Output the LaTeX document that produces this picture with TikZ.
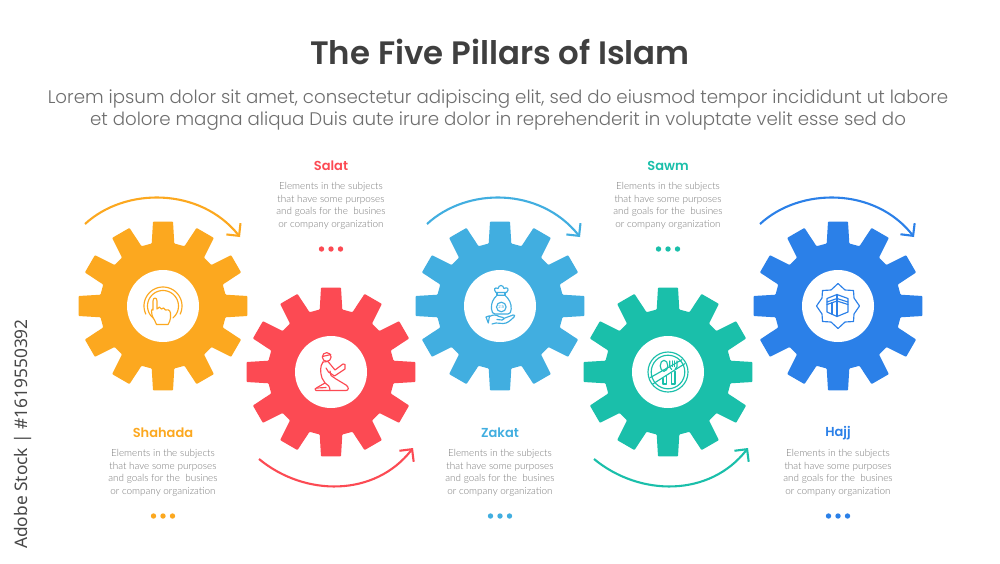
\documentclass[tikz,border=0pt]{standalone}
\usepackage{fontspec}
\usetikzlibrary{arrows.meta}
\setmainfont{Lato Light}
\newfontfamily\popf{Poppins}
\newfontfamily\popsb{Poppins SemiBold}
\newfontfamily\popl{Poppins Light}
\newfontfamily\wmf{Noto Sans}
\definecolor{cOr}{HTML}{FCA81F}
\definecolor{cRe}{HTML}{FC4A53}
\definecolor{cBl}{HTML}{41AEE0}
\definecolor{cTe}{HTML}{1ABFAA}
\definecolor{cDb}{HTML}{2B80E8}
\definecolor{cTi}{HTML}{3F3F3F}
\definecolor{cSu}{HTML}{6E6E6E}
\definecolor{cBo}{HTML}{7A7A7A}
\tikzset{
 x=1pt,y=-1pt,
 titletext/.style={inner sep=0,font=\popsb\fontsize{32.4}{36}\selectfont,text=cTi},
 subtext/.style={inner sep=0,align=center,font=\popl\fontsize{18.22}{22.5}\selectfont,text=cSu},
 headtext/.style={inner sep=0,font=\popsb\fontsize{13}{16}\selectfont},
 bodytext/.style={inner sep=0,align=center,font=\fontsize{9.9}{12.4}\selectfont,text=cBo},
 hole/.style={circle,fill=white,minimum size=72pt,inner sep=0},
 turn/.style={line width=2.1pt,-{Straight Barb[length=9pt,width=18pt,line width=2.1pt]}},
 ico/.style={line width=1.15pt,line join=round,line cap=round},
 dot/.style={circle,inner sep=0,minimum size=5.4pt},
}
\newcommand{\gearshape}[3]{% x,y,colour
 \begin{scope}[shift={(#1,#2)}]
 \fill[#3,rounded corners=0.8pt] (-10.25:63.5)
  \foreach \a in {0,30,...,330}{
   -- (\a-6.76:85) -- (\a+6.76:85) -- (\a+10.25:63.5) -- (\a+19.75:63.5)
  } -- cycle;
 \end{scope}}
\newcommand{\infoblock}[6]{% name,x,ytop,colour,title,dots y
 \node[headtext,text=#4] (#1h) at (#2,#3) {#5};
 \node[bodytext,anchor=north] (#1b) at (#2,#3+16.5) {Elements in the subjects\\that have some purposes\\and goals for the\ \ busines\\or company organization};
 \node[dot,fill=#4] (#1d1) at (#2-9.5,#6) {};
 \node[dot,fill=#4] (#1d2) at (#2,#6) {};
 \node[dot,fill=#4] (#1d3) at (#2+9.5,#6) {};}
\newcommand{\ringarc}[3]{plot[domain=#2:#3,samples=40,smooth] ({#1*cos(\x)},{#1*sin(\x)})}
\begin{document}
\begin{tikzpicture}
\useasboundingbox (0,0) rectangle (1000,563);
\fill[white] (0,0) rectangle (1000,563);

\node[titletext] (title) at (500,52) {The Five Pillars of Islam};
\node[subtext] (sub) at (498,110) {Lorem ipsum dolor sit amet, consectetur adipiscing elit, sed do eiusmod tempor incididunt ut labore\\et dolore magna aliqua Duis aute irure dolor in reprehenderit in voluptate velit esse sed do};

\node[rotate=90,inner sep=0,font=\wmf\fontsize{17.3}{20}\selectfont,text=black!72] (stock) at (23,434) {Adobe Stock | \#1619550392};

\gearshape{163}{306}{cOr}
\gearshape{331}{372}{cRe}
\gearshape{500}{306}{cBl}
\gearshape{668}{372}{cTe}
\gearshape{838}{306}{cDb}

\node[hole] (g1) at (163,306) {};
\node[hole] (g2) at (331,372) {};
\node[hole] (g3) at (500,306) {};
\node[hole] (g4) at (668,372) {};
\node[hole] (g5) at (838,306) {};

\infoblock{a}{163}{433}{cOr}{Shahada}{516}
\infoblock{b}{331}{166}{cRe}{Salat}{249}
\infoblock{c}{500}{433}{cBl}{Zakat}{516}
\infoblock{d}{668}{166}{cTe}{Sawm}{249}
\infoblock{e}{838}{433}{cDb}{Hajj}{516}

% turning arrows
\coordinate (a1) at (85,224);  \coordinate (a2) at (240,237);
\coordinate (b1) at (259,459); \coordinate (b2) at (413,448);
\coordinate (c1) at (427,224); \coordinate (c2) at (580,237);
\coordinate (d1) at (594,459); \coordinate (d2) at (748,448);
\coordinate (e1) at (760,224); \coordinate (e2) at (914,237);
\draw[turn,cOr] (a1) .. controls (125,187) and (200,187) .. (a2);
\draw[turn,cRe] (b1) .. controls (305,497) and (375,497) .. (b2);
\draw[turn,cBl] (c1) .. controls (467,187) and (540,187) .. (c2);
\draw[turn,cTe] (d1) .. controls (640,497) and (710,497) .. (d2);
\draw[turn,cDb] (e1) .. controls (800,187) and (875,187) .. (e2);

% icon 1: pointing hand
\begin{scope}[shift={(g1.center)},cOr,ico]
 \draw \ringarc{19}{-205}{25};
 \draw \ringarc{15.5}{-230}{50};
 \draw[fill=white] (-10,-5) .. controls (-10,-9) and (-6,-9) .. (-6,-5) -- (-6,3)
  .. controls (-5,0.5) and (-2,0.5) .. (-1.5,3) .. controls (-1,1.5) and (2,1.5) .. (2.5,4)
  .. controls (3.5,3) and (7,3.5) .. (7.5,7) -- (7.5,12) .. controls (7.5,15) and (6,16) .. (5,18.5)
  -- (-6.5,18.5) .. controls (-7,15) and (-10,13) .. (-11,9) -- (-11.5,5) .. controls (-11.5,3) and (-10.5,3) .. (-10,4) -- cycle;
\end{scope}

% icon 2: kneeling person in prayer
\begin{scope}[shift={(g2.center)},cRe,ico]
 \draw (-4.3,-15) circle (4.4);
 \draw (-8.5,-15.5) -- (-0.2,-17.5);
 \draw (-8,-10) .. controls (-11,-6) and (-11,0) .. (-9,6) -- (-6,11) -- (-13,15) -- (-16,17) -- (-15,18.5) -- (15,18.5) .. controls (18,18.5) and (18,15) .. (15,13) -- (5,7) -- (0,3.5) -- (-1,-1);
 \draw (-8,-10) -- (-3,-10.5) -- (4,-2) -- (12,-8) -- (14,-7.5) -- (14,-3) -- (3.5,4) -- (-2.5,0) -- (-5,-4);
 \draw (-6,11) .. controls (-3,12) and (-1,15) .. (-1,18.5);
 \draw (-14,16) -- (-5,15.5);
\end{scope}

% icon 3: money bag on a hand
\begin{scope}[shift={(g3.center)},cBl,ico]
 \draw (-3,-10.7) .. controls (-7,-7) and (-9,-3) .. (-8.5,3) .. controls (-8.5,6) and (-7,8) .. (-5,8) -- (8,8) .. controls (10,8) and (11.2,6) .. (11.2,3) .. controls (11.5,-3) and (9,-7) .. (5,-10.7) -- cycle;
 \draw (-3,-10.7) -- (-3,-13.5) (5,-10.7) -- (5,-13.5);
 \draw (-4,-13.5) .. controls (-7,-17) and (-5,-19) .. (-2,-17.5) .. controls (-1,-21.5) and (3,-21.5) .. (4,-17.5) .. controls (7,-19.5) and (10,-17) .. (6.5,-13.5) -- cycle;
 \draw (1.3,1) circle (4.8);
 \node[inner sep=0,font=\popf\fontsize{4.2}{5}\selectfont,text=cBl] (ic3t) at (1.3,1) {2.5};
 \draw[fill=white] (-14,11) -- (-10.5,9.8) -- (-11.7,17) -- (-14,11) -- cycle;
 \draw[fill=white] (-10.5,10.5) .. controls (-7,8.5) and (-4,8.5) .. (-1,10.5) -- (3,11.5) .. controls (5,12) and (4,14) .. (2,14) -- (-3,13.5) (3.5,12.5) -- (13,9) .. controls (15,8.5) and (15,10) .. (14,11) .. controls (10,15) and (7,17.5) .. (3,17.5) -- (-4,17) -- (-8,18);
\end{scope}

% icon 4: forbidden food
\begin{scope}[shift={(g4.center)},cTe,ico]
 \draw (0,0) circle (20) (0,0) circle (16.8);
 \draw (-15.7,12.3) -- (16.7,-8.3);
 \draw (-18,5.7) -- (14,-12.3);
 \draw (-4,-6.2) ellipse (3.8 and 5.5);
 \draw (-5,6.5) -- (-5,12) -- (-1.8,12) -- (-1.8,4.5);
 \draw (1.7,-11) -- (1.7,-5) -- (3.7,-2.5) (9,-11) -- (9,-5) -- (7.3,-3.5);
 \draw (4.2,-11) -- (4.2,-5.5) (6.5,-11) -- (6.5,-5.5);
 \draw (3.7,1.5) -- (3.7,12) -- (7,12) -- (7,-0.5);
\end{scope}

% icon 5: Kaaba in a star
\begin{scope}[shift={(g5.center)},cDb,ico]
 \draw (0,-22.5) -- (7,-16) -- (15.5,-15.5) -- (16,-8) -- (21.5,0) -- (16,8) -- (15.5,15.5) -- (7,16) -- (0,22.5) -- (-7,16) -- (-15.5,15.5) -- (-16,8) -- (-21.5,0) -- (-16,-8) -- (-15.5,-15.5) -- (-7,-16) -- cycle;
 \draw (-11,-7.5) -- (-1,-11.5) -- (10,-7.5) -- (10,6) -- (-1,10.5) -- (-11,6) -- cycle;
 \draw (-1,-11.5) -- (-1,10.5);
 \draw (-11,-4) -- (-1,-7.5) -- (10,-4);
 \draw (-11,-1.5) -- (-1,-5) -- (10,-1.5);
 \draw (-6,8) -- (-6,-3.5);
\end{scope}
\end{tikzpicture}
\end{document}
